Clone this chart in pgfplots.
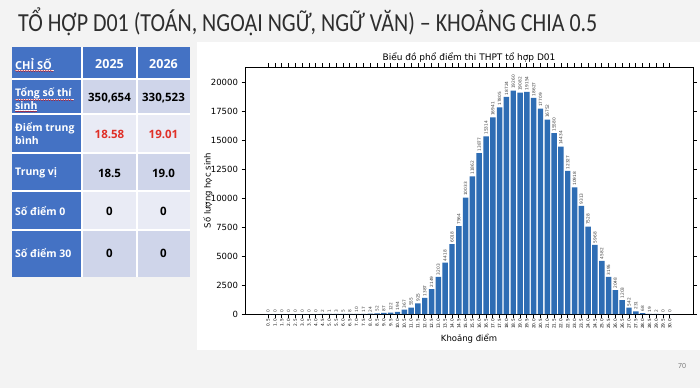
\documentclass[border=0pt]{standalone}
\usepackage{pgfplots}
\pgfplotsset{compat=1.18}
\usepackage{pgfplotstable}
\usepackage{fontspec}
\usepackage{graphicx}
\usetikzlibrary{decorations.pathmorphing}
\setmainfont{Open Sans}
\newfontfamily\chartfont{DejaVu Sans}
\newfontfamily\titlefont{Carlito}
\definecolor{hdrblue}{RGB}{68,114,196}
\definecolor{cellA}{RGB}{207,213,234}
\definecolor{cellB}{RGB}{233,235,245}
\definecolor{barblue}{RGB}{46,109,180}
\definecolor{valred}{RGB}{224,48,40}
\definecolor{slidebg}{RGB}{243,243,243}

\pgfplotstableread{
score val
0.5 0
1.0 0
1.5 0
2.0 0
2.5 0
3.0 0
3.5 0
4.0 0
4.5 2
5.0 1
5.5 3
6.0 5
6.5 8
7.0 10
7.5 17
8.0 24
8.5 52
9.0 87
9.5 122
10.0 194
10.5 367
11.0 555
11.5 925
12.0 1387
12.5 2149
13.0 3203
13.5 4418
14.0 6018
14.5 7564
15.0 10033
15.5 11862
16.0 13877
16.5 15314
17.0 16941
17.5 17805
18.0 18724
18.5 19260
19.0 19082
19.5 19154
20.0 18627
20.5 17709
21.0 16752
21.5 15580
22.0 14434
22.5 12327
23.0 10918
23.5 9313
24.0 7528
24.5 5968
25.0 4582
25.5 3195
26.0 2048
26.5 1203
27.0 542
27.5 231
28.0 68
28.5 19
29.0 2
29.5 0
30.0 0
}\scores

\tikzset{wavy/.style={red!80!black, line width=0.4pt, decorate, decoration={snake, amplitude=0.5pt, segment length=2.5pt}}}

\begin{document}
\begin{tikzpicture}
\fill[slidebg] (0pt,0pt) rectangle (700pt,388pt);
\fill[white] (197pt,38pt) rectangle (700pt,346pt);
% title
\node[anchor=base west, inner sep=0, text=black!82] at (18pt,356pt) {\resizebox{579pt}{\height}{\titlefont\fontsize{26}{30}\selectfont TỔ HỢP D01 (TOÁN, NGOẠI NGỮ, NGỮ VĂN) – KHOẢNG CHIA 0.5}};
% table
\fill[hdrblue] (12pt,111pt) rectangle (190pt,341pt);
\fill[cellA] (82pt,274pt) rectangle (190pt,308pt);
\fill[cellB] (82pt,235pt) rectangle (190pt,274pt);
\fill[cellA] (82pt,197pt) rectangle (190pt,235pt);
\fill[cellB] (82pt,158pt) rectangle (190pt,197pt);
\fill[cellA] (82pt,111pt) rectangle (190pt,158pt);
\draw[white, line width=2pt] (12pt,309pt) -- (190pt,309pt);
\draw[white, line width=1.5pt] (12pt,274pt) -- (190pt,274pt);
\draw[white, line width=1.5pt] (12pt,235pt) -- (190pt,235pt);
\draw[white, line width=1.5pt] (12pt,197pt) -- (190pt,197pt);
\draw[white, line width=1.5pt] (12pt,158pt) -- (190pt,158pt);
\draw[white, line width=1.5pt] (82pt,111pt) -- (82pt,341pt);
\draw[white, line width=1.5pt] (137pt,111pt) -- (137pt,341pt);
\begin{scope}[every node/.style={inner sep=0}]
\node[anchor=west, text=white, font=\bfseries\fontsize{11}{13}\selectfont] at (15pt,324pt) {CHỈ SỐ};
\node[text=white, font=\bfseries\fontsize{12.5}{14}\selectfont] at (109.5pt,324pt) {2025};
\node[text=white, font=\bfseries\fontsize{12.5}{14}\selectfont] at (163.5pt,324pt) {2026};
\node[anchor=west, align=left, text=white, font=\bfseries\fontsize{10.5}{13}\selectfont] at (15pt,290pt) {Tổng số thí\\sinh};
\node[anchor=west, align=left, text=white, font=\bfseries\fontsize{10.5}{13}\selectfont] at (15pt,254.5pt) {Điểm trung\\bình};
\node[anchor=west, text=white, font=\bfseries\fontsize{10.5}{13}\selectfont] at (15pt,215pt) {Trung vị};
\node[anchor=west, text=white, font=\bfseries\fontsize{10.5}{13}\selectfont] at (15pt,177pt) {Số điểm 0};
\node[anchor=west, text=white, font=\bfseries\fontsize{10.5}{13}\selectfont] at (15pt,135pt) {Số điểm 30};
\node[font=\bfseries\fontsize{11.5}{13}\selectfont] at (109.5pt,290pt) {350,654};
\node[font=\bfseries\fontsize{11.5}{13}\selectfont] at (163.5pt,290pt) {330,523};
\node[text=valred, font=\bfseries\fontsize{11.5}{13}\selectfont] at (109.5pt,254pt) {18.58};
\node[text=valred, font=\bfseries\fontsize{11.5}{13}\selectfont] at (163.5pt,254pt) {19.01};
\node[font=\bfseries\fontsize{11.5}{13}\selectfont] at (109.5pt,215pt) {18.5};
\node[font=\bfseries\fontsize{11.5}{13}\selectfont] at (163.5pt,215pt) {19.0};
\node[font=\bfseries\fontsize{11.5}{13}\selectfont] at (109.5pt,177pt) {0};
\node[font=\bfseries\fontsize{11.5}{13}\selectfont] at (163.5pt,177pt) {0};
\node[font=\bfseries\fontsize{11.5}{13}\selectfont] at (109.5pt,135pt) {0};
\node[font=\bfseries\fontsize{11.5}{13}\selectfont] at (163.5pt,135pt) {0};
\node[text=black!55, font=\fontsize{7}{8}\selectfont] at (682pt,22pt) {70};
\end{scope}
% spell-check underlines
\draw[white, line width=0.6pt] (15pt,318pt) -- (54pt,318pt);
\draw[white, line width=0.6pt] (15pt,289pt) -- (74pt,289pt);
\draw[white, line width=0.6pt] (15pt,277.5pt) -- (37pt,277.5pt);
\draw[wavy] (15pt,317pt) -- (54pt,317pt);
\draw[wavy] (15pt,288pt) -- (74pt,288pt);
\draw[wavy] (15pt,276.5pt) -- (37pt,276.5pt);
% chart
\begin{axis}[
  at={(245pt,74pt)}, anchor=south west,
  scale only axis, width=448pt, height=247pt,
  xmin=-1.2, xmax=31.7, ymin=0, ymax=21290,
  ybar, bar width=0.4,
  xtick=data,
  xticklabel={\pgfmathprintnumber[fixed,fixed zerofill,precision=1]{\tick}},
  ytick={0,2500,5000,7500,10000,12500,15000,17500,20000},
  scaled y ticks=false,
  /pgf/number format/assume math mode=true,
  yticklabel style={/pgf/number format/1000 sep={}, font=\chartfont\fontsize{8.5}{10}\selectfont},
  xticklabel style={rotate=90, anchor=east, font=\chartfont\fontsize{4.3}{5}\selectfont, inner sep=1.5pt},
  tick align=outside, major tick length=3.5pt,
  tick style={black, line width=0.8pt},
  axis line style={line width=0.8pt},
  title={Biểu đồ phổ điểm thi THPT tổ hợp D01},
  title style={font=\chartfont\fontsize{9}{11}\selectfont, yshift=-5pt},
  xlabel={Khoảng điểm}, ylabel={Số lượng học sinh},
  every axis x label/.style={at={(axis description cs:0.5,-0.101)}, anchor=center, font=\chartfont\fontsize{8.5}{10}\selectfont},
  every axis y label/.style={at={(axis description cs:-0.083,0.5)}, rotate=90, anchor=center, font=\chartfont\fontsize{8.5}{10}\selectfont},
  nodes near coords={\pgfmathprintnumber[fixed,precision=0,1000 sep={}]{\pgfplotspointmeta}},
  every node near coord/.append style={rotate=90, anchor=west, font=\chartfont\fontsize{4.3}{5}\selectfont, text=black!75, inner sep=1.5pt},
]
\addplot[fill=barblue, draw=none] table[x=score, y=val] {\scores};
\end{axis}
\end{tikzpicture}
\end{document}
